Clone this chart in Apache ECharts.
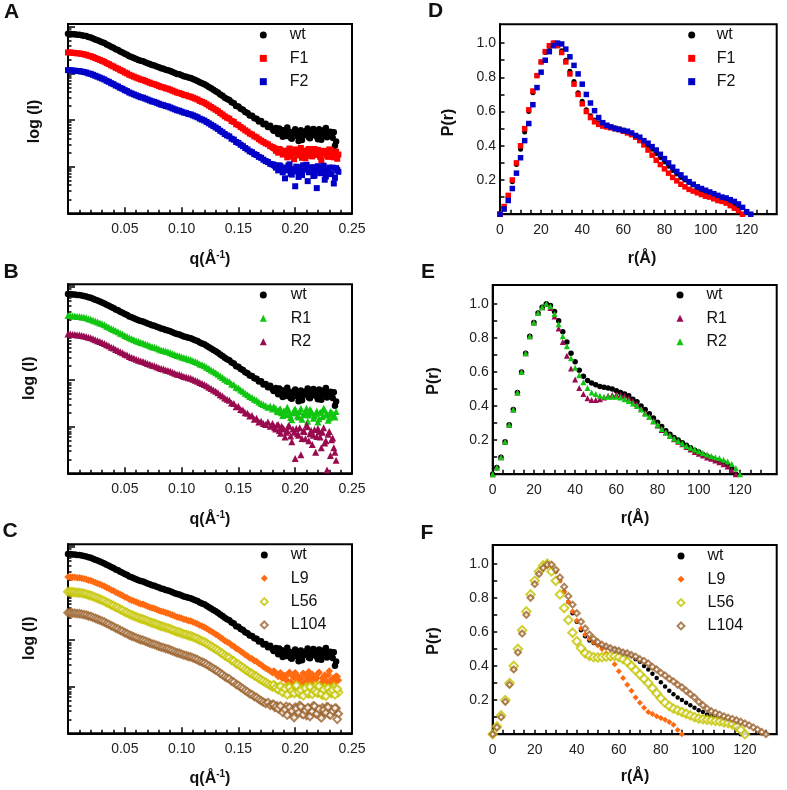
<!DOCTYPE html>
<html><head><meta charset="utf-8">
<script src="https://cdn.jsdelivr.net/npm/echarts@6/dist/echarts.min.js"></script>
<style>html,body{margin:0;padding:0;background:#fff}#c{width:787px;height:790px}</style>
</head><body><div id="c"></div>
<script>
// ---------- SAXS data: q (1/Å) and log(I) ----------
const qGrid = [0,0.002,0.004,0.006,0.008,0.01,0.012,0.014,0.016,0.018,0.02,0.022,0.024,0.026,0.028,0.03,0.032,0.034,0.036,0.038,0.04,0.042,0.044,0.046,0.048,0.05,0.052,0.054,0.056,0.058,0.06,0.062,0.064,0.066,0.068,0.07,0.072,0.074,0.076,0.078,0.08,0.082,0.084,0.086,0.088,0.09,0.092,0.094,0.096,0.098,0.1,0.102,0.104,0.106,0.108,0.11,0.112,0.114,0.116,0.118,0.12,0.122,0.124,0.126,0.128,0.13,0.132,0.134,0.136,0.138,0.14,0.142,0.144,0.146,0.148,0.15,0.152,0.154,0.156,0.158,0.16,0.162,0.164,0.166,0.168,0.17,0.172,0.174,0.176,0.178,0.18,0.182,0.184,0.186,0.188,0.19,0.192,0.194,0.196,0.198,0.2,0.202,0.204,0.206,0.208,0.21,0.212,0.214,0.216,0.218,0.22,0.222,0.224,0.226,0.228,0.23,0.232,0.234,0.236,0.238];
// extra q positions in the noisy high-q tail
const qNoise = [0.181,0.183,0.185,0.187,0.189,0.191,0.193,0.195,0.197,0.199,0.201,0.203,0.205,0.207,0.209,0.211,0.213,0.215,0.217,0.219,0.221,0.223,0.225,0.227,0.229,0.231,0.233,0.235,0.237];

const wtSaxs = [1.85,1.85,1.84,1.84,1.83,1.83,1.82,1.81,1.80,1.78,1.77,1.75,1.73,1.71,1.69,1.67,1.65,1.62,1.60,1.57,1.55,1.52,1.50,1.47,1.45,1.42,1.40,1.37,1.35,1.33,1.31,1.29,1.27,1.26,1.24,1.22,1.20,1.18,1.17,1.15,1.13,1.11,1.10,1.08,1.07,1.05,1.03,1.01,0.99,0.98,0.96,0.94,0.93,0.91,0.90,0.88,0.86,0.84,0.81,0.79,0.77,0.74,0.71,0.68,0.65,0.62,0.59,0.55,0.52,0.48,0.45,0.43,0.38,0.36,0.30,0.29,0.24,0.22,0.17,0.15,0.10,0.09,0.04,0.03,-0.03,-0.02,-0.09,-0.08,-0.15,-0.12,-0.19,
 -0.19,-0.25,-0.18,-0.28,-0.22,-0.34,-0.24,-0.38,-0.28,-0.20,-0.35,-0.27,-0.43,-0.30,-0.23,-0.37,-0.27,-0.19,-0.33,-0.41,-0.25,-0.31,-0.21,-0.37,-0.29,-0.34,-0.26,-0.46];
const wtNoise = [-0.23,-0.17,-0.30,-0.21,-0.36,-0.26,-0.16,-0.31,-0.40,-0.24,-0.29,-0.45,-0.22,-0.33,-0.27,-0.18,-0.39,-0.30,-0.24,-0.35,-0.20,-0.42,-0.28,-0.17,-0.32,-0.25,-0.38,-0.55];

const f1Saxs = [1.45,1.45,1.44,1.44,1.43,1.43,1.42,1.41,1.40,1.38,1.37,1.35,1.33,1.31,1.29,1.27,1.25,1.22,1.20,1.17,1.15,1.12,1.10,1.07,1.05,1.02,1.00,0.97,0.95,0.93,0.91,0.89,0.87,0.86,0.84,0.82,0.80,0.78,0.77,0.75,0.73,0.71,0.70,0.68,0.67,0.65,0.63,0.61,0.59,0.58,0.56,0.54,0.53,0.51,0.50,0.48,0.46,0.44,0.41,0.39,0.37,0.34,0.31,0.28,0.25,0.22,0.19,0.15,0.12,0.08,0.05,0.03,-0.02,-0.04,-0.09,-0.11,-0.15,-0.18,-0.22,-0.25,-0.29,-0.31,-0.35,-0.37,-0.41,-0.44,
 -0.47,-0.50,-0.52,-0.56,-0.58,-0.61,-0.64,-0.62,-0.68,-0.66,
 -0.72,-0.65,-0.78,-0.69,-0.63,-0.75,-0.70,-0.81,-0.66,-0.73,-0.62,-0.77,-0.69,-0.74,-0.64,-0.79,-0.71,-0.67,-0.76,-0.63,-0.72,-0.80,-0.68,-0.74];
const f1Noise = [-0.60,-0.66,-0.70,-0.64,-0.74,-0.68,-0.80,-0.61,-0.71,-0.84,-0.67,-0.76,-0.60,-0.73,-0.82,-0.65,-0.70,-0.78,-0.62,-0.75,-0.68,-0.86,-0.66,-0.72,-0.79,-0.64,-0.70,-0.77,-0.83];

const f2Saxs = [1.07,1.07,1.06,1.06,1.05,1.05,1.04,1.03,1.02,1.00,0.99,0.97,0.95,0.93,0.91,0.89,0.87,0.84,0.82,0.79,0.77,0.74,0.72,0.69,0.67,0.64,0.62,0.59,0.57,0.55,0.53,0.51,0.49,0.48,0.46,0.44,0.42,0.40,0.39,0.37,0.35,0.33,0.32,0.30,0.29,0.27,0.25,0.23,0.21,0.20,0.18,0.16,0.15,0.13,0.12,0.10,0.08,0.06,0.03,0.01,-0.01,-0.04,-0.07,-0.10,-0.13,-0.16,-0.19,-0.23,-0.26,-0.30,-0.33,-0.35,-0.40,-0.42,-0.47,-0.49,-0.53,-0.56,-0.60,-0.63,-0.67,-0.69,-0.73,-0.75,-0.79,-0.81,
 -0.85,-0.88,-0.90,-0.94,-0.95,-0.98,-1.00,-0.97,-1.04,-1.02,
 -1.08,-0.98,-1.15,-1.05,-1.42,-1.10,-1.01,-1.18,-1.06,-0.96,-1.12,-1.04,-1.20,-1.07,-0.99,-1.14,-1.05,-1.28,-1.09,-1.02,-1.16,-1.36,-1.03,-1.11];
const f2Noise = [-0.96,-1.02,-1.08,-0.99,-1.12,-1.25,-1.03,-0.95,-1.17,-1.09,-1.00,-1.22,-1.13,-0.97,-1.06,-1.31,-1.10,-1.01,-1.19,-1.46,-1.04,-1.13,-0.98,-1.21,-1.08,-1.15,-1.02,-1.24,-1.07];

const r1Saxs = [1.39,1.39,1.38,1.38,1.37,1.37,1.36,1.35,1.34,1.32,1.31,1.29,1.27,1.25,1.23,1.21,1.19,1.16,1.14,1.11,1.09,1.06,1.04,1.01,0.99,0.96,0.94,0.91,0.89,0.87,0.85,0.83,0.81,0.80,0.78,0.76,0.74,0.72,0.71,0.69,0.67,0.65,0.64,0.62,0.61,0.59,0.57,0.55,0.53,0.52,0.50,0.48,0.47,0.45,0.44,0.42,0.40,0.38,0.35,0.33,0.31,0.28,0.25,0.22,0.19,0.16,0.13,0.09,0.06,0.02,-0.01,-0.03,-0.08,-0.10,-0.15,-0.17,-0.21,-0.24,-0.28,-0.31,-0.35,-0.37,-0.41,-0.43,-0.47,-0.50,
 -0.52,-0.55,-0.58,-0.56,-0.62,-0.60,-0.66,-0.63,-0.70,-0.66,
 -0.74,-0.64,-0.80,-0.70,-0.62,-0.77,-0.68,-0.84,-0.71,-0.60,-0.75,-0.66,-0.82,-0.72,-0.90,-0.69,-0.78,-0.64,-0.73,-0.81,-0.70,-0.76,-0.67];
const r1Noise = [-0.57,-0.61,-0.68,-0.62,-0.76,-0.66,-0.58,-0.73,-0.85,-0.65,-0.70,-0.79,-0.61,-0.74,-0.67,-0.88,-0.63,-0.71,-0.77,-0.66,-0.83,-0.69,-0.60,-0.75,-0.86,-0.68,-0.72,-0.79];

const r2Saxs = [0.99,0.99,0.98,0.98,0.97,0.97,0.96,0.95,0.94,0.92,0.91,0.89,0.87,0.85,0.83,0.81,0.79,0.76,0.74,0.71,0.69,0.66,0.64,0.61,0.59,0.56,0.54,0.51,0.49,0.47,0.45,0.43,0.41,0.40,0.38,0.36,0.34,0.32,0.31,0.29,0.27,0.25,0.24,0.22,0.21,0.19,0.17,0.15,0.13,0.12,0.10,0.08,0.07,0.05,0.04,0.02,0.00,-0.02,-0.05,-0.07,-0.09,-0.12,-0.15,-0.18,-0.21,-0.24,-0.27,-0.31,-0.34,-0.38,-0.41,-0.43,-0.49,-0.50,-0.57,-0.56,-0.63,-0.64,-0.70,-0.71,-0.77,-0.76,-0.84,-0.82,-0.90,-0.88,
 -0.93,-0.95,-0.90,-0.99,-0.93,-1.02,-0.96,-1.08,-0.99,-1.05,
 -1.12,-0.98,-1.20,-1.05,-1.68,-1.15,-1.02,-1.25,-1.10,-0.96,-1.30,-1.08,-1.18,-1.55,-1.04,-1.22,-1.12,-1.35,-1.93,-1.10,-1.28,-1.45,-1.72];
const r2Noise = [-0.98,-1.05,-0.95,-1.14,-1.02,-1.22,-1.08,-0.99,-1.32,-1.12,-1.04,-1.18,-1.60,-1.09,-1.26,-1.00,-1.15,-1.38,-1.06,-1.21,-1.11,-1.45,-1.02,-1.30,-1.16,-1.62,-1.24,-1.55];

const l9Saxs = [1.36,1.36,1.35,1.35,1.34,1.34,1.33,1.32,1.31,1.29,1.28,1.26,1.24,1.22,1.20,1.18,1.16,1.13,1.11,1.08,1.06,1.03,1.01,0.98,0.96,0.93,0.91,0.88,0.86,0.84,0.82,0.80,0.78,0.77,0.75,0.73,0.71,0.69,0.68,0.66,0.64,0.62,0.61,0.59,0.58,0.56,0.54,0.52,0.50,0.49,0.47,0.45,0.44,0.42,0.41,0.39,0.37,0.35,0.32,0.30,0.28,0.25,0.22,0.19,0.16,0.13,0.10,0.06,0.03,-0.01,-0.04,-0.06,-0.11,-0.13,-0.18,-0.20,-0.24,-0.27,-0.31,-0.34,-0.38,-0.40,-0.44,-0.46,-0.50,-0.53,
 -0.57,-0.60,-0.63,-0.66,-0.70,-0.68,-0.75,-0.72,-0.80,-0.76,
 -0.84,-0.72,-0.90,-0.78,-0.70,-0.88,-0.80,-0.95,-0.74,-0.86,-0.68,-0.92,-0.79,-0.85,-0.72,-0.96,-0.81,-0.75,-0.89,-0.66,-0.84,-0.93,-0.77,-0.86];
const l9Noise = [-0.66,-0.72,-0.78,-0.70,-0.82,-0.76,-0.88,-0.69,-0.93,-0.80,-0.74,-0.97,-0.83,-0.71,-0.90,-0.78,-0.85,-0.73,-0.99,-0.81,-0.69,-0.92,-0.79,-0.87,-0.74,-0.95,-0.82,-0.89,-0.78];

const l56Saxs = [1.04,1.04,1.03,1.03,1.02,1.02,1.01,1.00,0.99,0.97,0.96,0.94,0.92,0.90,0.88,0.86,0.84,0.81,0.79,0.76,0.74,0.71,0.69,0.66,0.64,0.61,0.59,0.56,0.54,0.52,0.50,0.48,0.46,0.45,0.43,0.41,0.39,0.37,0.36,0.34,0.32,0.30,0.29,0.27,0.26,0.24,0.22,0.20,0.18,0.17,0.15,0.13,0.12,0.10,0.09,0.07,0.05,0.03,0.00,-0.02,-0.04,-0.07,-0.10,-0.13,-0.16,-0.19,-0.22,-0.26,-0.29,-0.33,-0.36,-0.38,-0.43,-0.45,-0.50,-0.52,-0.56,-0.59,-0.63,-0.66,-0.70,-0.72,-0.76,-0.78,-0.82,-0.85,
 -0.88,-0.91,-0.94,-0.97,-1.00,-0.98,-1.04,-1.01,-1.07,
 -1.03,-1.10,-1.00,-1.14,-1.05,-1.12,-0.99,-1.16,-1.06,-1.11,-1.01,-1.15,-1.04,-1.09,-0.98,-1.13,-1.06,-1.18,-1.02,-1.10,-1.05,-1.14,-1.00,-1.08,-1.12];
const l56Noise = [-0.96,-1.02,-1.06,-0.99,-1.12,-1.04,-1.17,-1.01,-1.09,-1.14,-0.97,-1.11,-1.07,-1.19,-1.03,-1.13,-1.00,-1.16,-1.08,-1.12,-0.99,-1.15,-1.06,-1.20,-1.03,-1.10,-1.07,-1.17,-1.05];

const l104Saxs = [0.59,0.59,0.58,0.58,0.57,0.57,0.56,0.55,0.54,0.52,0.51,0.49,0.47,0.45,0.43,0.41,0.39,0.36,0.34,0.31,0.29,0.26,0.24,0.21,0.19,0.16,0.14,0.11,0.09,0.07,0.05,0.03,0.01,0.00,-0.02,-0.04,-0.06,-0.08,-0.09,-0.11,-0.13,-0.15,-0.16,-0.18,-0.19,-0.21,-0.23,-0.25,-0.27,-0.28,-0.30,-0.32,-0.33,-0.35,-0.36,-0.38,-0.40,-0.42,-0.45,-0.47,-0.49,-0.52,-0.55,-0.58,-0.61,-0.64,-0.67,-0.71,-0.74,-0.78,-0.81,-0.83,-0.88,-0.90,-0.95,-0.97,-1.01,-1.04,-1.08,-1.11,-1.15,-1.17,-1.21,-1.23,-1.27,-1.30,
 -1.33,-1.36,-1.34,-1.40,-1.38,-1.44,-1.41,-1.48,
 -1.45,-1.52,-1.42,-1.56,-1.47,-1.60,-1.44,-1.53,-1.40,-1.58,-1.49,-1.62,-1.46,-1.54,-1.41,-1.57,-1.50,-1.63,-1.45,-1.55,-1.43,-1.59,-1.48,-1.53,-1.46,-1.58];
const l104Noise = [-1.38,-1.43,-1.47,-1.41,-1.55,-1.49,-1.61,-1.44,-1.52,-1.66,-1.47,-1.56,-1.43,-1.60,-1.51,-1.45,-1.64,-1.53,-1.42,-1.58,-1.48,-1.67,-1.50,-1.56,-1.44,-1.61,-1.52,-1.46,-1.70];

// ---------- P(r) data: r (Å) and P(r) ----------
const rGrid = [0,2,4,6,8,10,12,14,16,18,20,22,24,26,28,30,32,34,36,38,40,42,44,46,48,50,52,54,56,58,60,62,64,66,68,70,72,74,76,78,80,82,84,86,88,90,92,94,96,98,100,102,104,106,108,110,112,114,116,118,120,122,124,126,128,130];

const wtPr = [0,0.04,0.10,0.19,0.29,0.38,0.48,0.60,0.71,0.81,0.89,0.945,0.98,1.0,0.99,0.955,0.90,0.835,0.775,0.71,0.66,0.61,0.575,0.55,0.535,0.525,0.515,0.51,0.505,0.50,0.49,0.48,0.47,0.46,0.44,0.425,0.40,0.38,0.355,0.33,0.305,0.28,0.255,0.235,0.215,0.20,0.185,0.17,0.155,0.14,0.13,0.115,0.105,0.095,0.085,0.078,0.068,0.055,0.035,0];
const f1Pr = [0,0.045,0.11,0.20,0.30,0.40,0.50,0.61,0.72,0.81,0.89,0.95,0.985,1.0,0.985,0.945,0.89,0.82,0.76,0.70,0.645,0.60,0.565,0.54,0.525,0.515,0.51,0.505,0.50,0.495,0.485,0.475,0.465,0.45,0.43,0.405,0.375,0.345,0.315,0.29,0.265,0.24,0.215,0.195,0.175,0.16,0.145,0.135,0.125,0.115,0.105,0.10,0.09,0.08,0.075,0.065,0.05,0.035,0.02,0];
const f2Pr = [0,0.03,0.08,0.15,0.24,0.33,0.43,0.53,0.64,0.74,0.83,0.90,0.95,0.985,1.0,0.995,0.965,0.92,0.87,0.82,0.76,0.70,0.65,0.605,0.565,0.535,0.52,0.51,0.50,0.495,0.49,0.485,0.475,0.46,0.45,0.43,0.415,0.395,0.375,0.35,0.325,0.30,0.275,0.25,0.23,0.21,0.19,0.175,0.16,0.15,0.14,0.13,0.12,0.11,0.10,0.095,0.085,0.075,0.06,0.04,0.015,0];
const r1Pr = [0,0.04,0.10,0.19,0.29,0.38,0.48,0.60,0.71,0.81,0.89,0.945,0.98,1.0,0.975,0.925,0.855,0.775,0.695,0.62,0.555,0.505,0.47,0.445,0.435,0.435,0.44,0.45,0.46,0.465,0.468,0.465,0.46,0.445,0.43,0.41,0.385,0.36,0.335,0.31,0.285,0.26,0.245,0.225,0.205,0.19,0.175,0.16,0.145,0.13,0.12,0.11,0.098,0.09,0.08,0.07,0.058,0.045,0.025,0];
const r2Pr = [0,0.04,0.10,0.19,0.29,0.38,0.48,0.60,0.71,0.81,0.89,0.945,0.98,1.0,0.985,0.94,0.88,0.81,0.75,0.68,0.625,0.58,0.54,0.505,0.48,0.47,0.46,0.455,0.455,0.455,0.455,0.45,0.44,0.43,0.415,0.40,0.38,0.355,0.335,0.31,0.29,0.265,0.245,0.225,0.21,0.195,0.18,0.165,0.155,0.145,0.135,0.125,0.115,0.107,0.10,0.093,0.085,0.075,0.06,0.035,0];
const l9Pr = [0,0.04,0.10,0.19,0.29,0.38,0.48,0.60,0.71,0.81,0.89,0.945,0.98,1.0,0.99,0.955,0.90,0.835,0.775,0.72,0.665,0.62,0.585,0.56,0.54,0.52,0.50,0.475,0.445,0.41,0.37,0.33,0.29,0.255,0.215,0.185,0.155,0.13,0.118,0.105,0.095,0.085,0.072,0.055,0.025,0];
const l56Pr = [0,0.045,0.11,0.20,0.30,0.40,0.50,0.61,0.72,0.82,0.90,0.955,0.99,1.0,0.955,0.90,0.82,0.74,0.67,0.595,0.545,0.505,0.475,0.46,0.452,0.45,0.452,0.455,0.458,0.458,0.452,0.44,0.425,0.40,0.375,0.35,0.325,0.30,0.27,0.24,0.21,0.185,0.165,0.15,0.14,0.13,0.12,0.11,0.10,0.092,0.088,0.085,0.082,0.078,0.075,0.07,0.065,0.058,0.045,0.025,0];
const l104Pr = [0,0.04,0.10,0.19,0.29,0.38,0.48,0.59,0.70,0.80,0.88,0.94,0.975,0.995,0.995,0.965,0.92,0.865,0.81,0.76,0.71,0.66,0.62,0.585,0.56,0.54,0.525,0.515,0.505,0.495,0.49,0.48,0.475,0.465,0.455,0.44,0.43,0.415,0.395,0.38,0.36,0.345,0.325,0.31,0.29,0.275,0.255,0.235,0.215,0.19,0.17,0.15,0.135,0.125,0.115,0.105,0.097,0.09,0.082,0.073,0.063,0.052,0.04,0.027,0.013,0];

// ---------- tick values ----------
const qLabelVals = [0.05,0.10,0.15,0.20,0.25];
const rTickVals = [0,5,10,15,20,25,30,35,40,45,50,55,60,65,70,75,80,85,90,95,100,105,110,115,120,125,130];
const rLabelVals = [0,20,40,60,80,100,120];
const pTickVals = [0.1,0.2,0.3,0.4,0.5,0.6,0.7,0.8,0.9,1.0];
const pLabelVals = [0.2,0.4,0.6,0.8,1.0];
const logDecades = [-2,-1,0,1];
const logMinorK = [2,3,4,5,6,7,8,9];

const FONT = '"Liberation Sans", Arial, Helvetica, sans-serif';
const pts = (xs, ys) => ys.map((y, i) => [xs[i], y]);
const logMinorVals = [];
logDecades.forEach(d => logMinorK.forEach(k => logMinorVals.push(d + Math.log10(k))));

const C = {wt:'#000000', F1:'#ff0000', F2:'#0000c8', green:'#11c611', maroon:'#990a4e', L9:'#ff6a10', L56:'#c4c400', L104:'#9c6430'};

const tickLine = {color:'#000', width:1.5};
const grids = [
  {left:68, top:24, width:284, height:189.3},
  {left:68, top:284.3, width:284, height:189},
  {left:68, top:544.3, width:284, height:189},
  {left:500, top:24.3, width:276.7, height:189.9},
  {left:492.7, top:285, width:284, height:189.2},
  {left:492.7, top:545, width:284, height:189.2}
].map(g => Object.assign(g, {show:true, borderColor:'#000', borderWidth:2, backgroundColor:'transparent'}));

const xAxes = [], yAxes = [];
for (let i = 0; i < 3; i++) {
  xAxes.push({gridIndex:i, type:'value', min:0, max:0.25, interval:0.05,
    axisLine:{show:true, onZero:false, lineStyle:{color:'#000', width:2}},
    axisTick:{show:true, inside:true, length:6, lineStyle:tickLine},
    minorTick:{show:true, splitNumber:5, length:3.5, lineStyle:tickLine},
    axisLabel:{customValues:qLabelVals, formatter:v => Number(v).toFixed(2), color:'#222', fontSize:14, fontFamily:FONT, margin:9},
    splitLine:{show:false}, minorSplitLine:{show:false}});
  yAxes.push({gridIndex:i, type:'value', min:-2, max:2.06, interval:1, position:'left',
    axisLine:{show:true, onZero:false, lineStyle:{color:'#000', width:2}},
    axisTick:{show:true, inside:true, length:7, lineStyle:tickLine},
    axisLabel:{show:false}, splitLine:{show:false}});
  yAxes.push({gridIndex:i, type:'value', min:-2, max:2.06, position:'left', offset:0,
    axisLine:{show:false}, axisLabel:{show:false}, splitLine:{show:false},
    axisTick:{show:true, inside:true, length:3.5, customValues:logMinorVals, lineStyle:tickLine}});
}
const rMax = [134.6, 137.8, 135.1];
for (let j = 0; j < 3; j++) {
  const gi = 3 + j;
  xAxes.push({gridIndex:gi, type:'value', min:0, max:rMax[j], interval:20,
    axisLine:{show:true, onZero:false, lineStyle:{color:'#000', width:2}},
    axisTick:{show:true, inside:true, length:4.5, customValues:rTickVals, lineStyle:tickLine},
    axisLabel:{customValues:rLabelVals, color:'#222', fontSize:14, fontFamily:FONT, margin:9},
    splitLine:{show:false}});
  yAxes.push({gridIndex:gi, type:'value', min:0, max:1.11, interval:0.2, position:'left',
    axisLine:{show:true, onZero:false, lineStyle:{color:'#000', width:2}},
    axisTick:{show:true, inside:true, length:4.5, customValues:pTickVals, lineStyle:tickLine},
    axisLabel:{customValues:pLabelVals, formatter:v => Number(v).toFixed(1), color:'#222', fontSize:14, fontFamily:FONT, margin:4},
    splitLine:{show:false}});
}

const series = [];
function add(name, xi, yi, data, symbol, size, color, extra) {
  series.push(Object.assign({type:'scatter', name, xAxisIndex:xi, yAxisIndex:yi, data, symbol, symbolSize:size,
    clip:false, itemStyle:{color, opacity:1}, emphasis:{disabled:true}, animation:false}, extra || {}));
}
const saxs = (main, noise) => pts(qGrid, main).concat(pts(qNoise, noise));
// A
add('A:wt', 0, 0, saxs(wtSaxs, wtNoise), 'circle', 6.5, C.wt);
add('A:F1', 0, 0, saxs(f1Saxs, f1Noise), 'rect', 6, C.F1);
add('A:F2', 0, 0, saxs(f2Saxs, f2Noise), 'rect', 6, C.F2);
// B
add('B:wt', 1, 2, saxs(wtSaxs, wtNoise), 'circle', 6.5, C.wt);
add('B:R1', 1, 2, saxs(r1Saxs, r1Noise), 'triangle', 7, C.green);
add('B:R2', 1, 2, saxs(r2Saxs, r2Noise), 'triangle', 7, C.maroon);
// C
add('C:wt', 2, 4, saxs(wtSaxs, wtNoise), 'circle', 6.5, C.wt);
add('C:L9', 2, 4, saxs(l9Saxs, l9Noise), 'diamond', 7.5, C.L9);
add('C:L56', 2, 4, saxs(l56Saxs, l56Noise), 'emptyDiamond', 8, C.L56, {itemStyle:{color:C.L56, borderColor:C.L56, borderWidth:2}});
add('C:L104', 2, 4, saxs(l104Saxs, l104Noise), 'emptyDiamond', 7.5, C.L104, {itemStyle:{color:C.L104, borderColor:C.L104, borderWidth:2}});
// D
add('D:wt', 3, 6, pts(rGrid, wtPr), 'circle', 5, C.wt);
add('D:F1', 3, 6, pts(rGrid, f1Pr), 'rect', 5.5, C.F1);
add('D:F2', 3, 6, pts(rGrid, f2Pr), 'rect', 5.5, C.F2);
// E
add('E:wt', 4, 7, pts(rGrid, wtPr), 'circle', 5.5, C.wt);
add('E:R1', 4, 7, pts(rGrid, r1Pr), 'triangle', 6, C.maroon);
add('E:R2', 4, 7, pts(rGrid, r2Pr), 'triangle', 6, C.green);
// F
add('F:wt', 5, 8, pts(rGrid, wtPr), 'circle', 4.5, C.wt);
add('F:L9', 5, 8, pts(rGrid, l9Pr), 'diamond', 6, C.L9);
add('F:L56', 5, 8, pts(rGrid, l56Pr), 'emptyDiamond', 8.5, C.L56, {itemStyle:{color:C.L56, borderColor:C.L56, borderWidth:2}});
add('F:L104', 5, 8, pts(rGrid, l104Pr), 'emptyDiamond', 6, C.L104, {itemStyle:{color:C.L104, borderColor:C.L104, borderWidth:1.5}});

function legend(names, left, top, pad) {
  return {orient:'vertical', left, top, padding:0, itemGap:0, itemWidth:7, itemHeight:7, selectedMode:false,
    data:names, formatter:n => n.split(':')[1],
    textStyle:{fontSize:16, color:'#111', fontFamily:FONT, lineHeight:23.3, padding:[0,0,0,pad]}};
}
const legends = [
  legend(['A:wt','A:F1','A:F2'], 259.8, 23.4, 18),
  legend(['B:wt','B:R1','B:R2'], 259.8, 283.4, 19),
  legend(['C:wt','C:L9','C:L56','C:L104'], 259.8, 543.4, 18),
  legend(['D:wt','D:F1','D:F2'], 688.2, 23.4, 16.5),
  legend(['E:wt','E:R1','E:R2'], 676.5, 283.4, 18),
  legend(['F:wt','F:L9','F:L56','F:L104'], 676.5, 544.4, 18)
];

function txt(x, y, text, size, rot) {
  return {type:'text', x, y, rotation:rot || 0, silent:true,
    style:{text, fill:'#111', font:'bold ' + size + 'px ' + FONT, align:'center', verticalAlign:'middle', textAlign:'center', textVerticalAlign:'middle'}};
}
function qTitle(x, y) {
  return {type:'text', x, y, silent:true, style:{text:'{a|q(Å}{s|-1}{a|)}', align:'center', verticalAlign:'middle',
    rich:{a:{fontSize:16, fontWeight:'bold', fontFamily:FONT, fill:'#111', lineHeight:20},
          s:{fontSize:10, fontWeight:'bold', fontFamily:FONT, fill:'#111', lineHeight:12, verticalAlign:'top'}}}};
}
const graphics = [
  txt(11.5, 12.2, 'A', 21), txt(11, 272.2, 'B', 21), txt(10, 531.7, 'C', 21),
  txt(435.7, 11.5, 'D', 21), txt(428, 272.5, 'E', 21), txt(427, 533.3, 'F', 21),
  txt(35, 121.5, 'log (I)', 16, Math.PI / 2), txt(29.5, 378.3, 'log (I)', 16, Math.PI / 2), txt(29.5, 638.3, 'log (I)', 16, Math.PI / 2),
  txt(449, 122.5, 'P(r)', 16, Math.PI / 2), txt(434, 381, 'P(r)', 16, Math.PI / 2), txt(434, 641, 'P(r)', 16, Math.PI / 2),
  qTitle(210, 260), qTitle(210, 520), qTitle(210, 779),
  txt(642, 259, 'r(Å)', 16), txt(635, 519, 'r(Å)', 16), txt(635, 777, 'r(Å)', 16)
];

const chart = echarts.init(document.getElementById('c'), null, {renderer:'canvas'});
chart.setOption({
  backgroundColor:'#fff', animation:false,
  textStyle:{fontFamily:FONT},
  grid:grids, xAxis:xAxes, yAxis:yAxes, series, legend:legends, graphic:graphics
});
</script>
</body></html>
